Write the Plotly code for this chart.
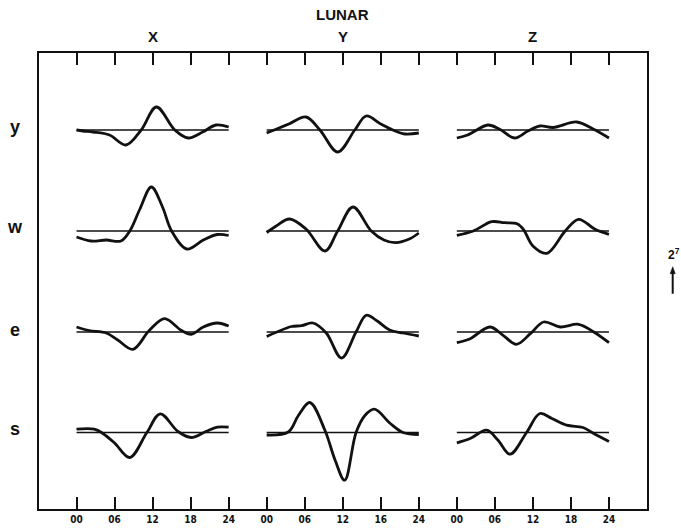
import plotly.graph_objects as go

# ---------------- data ----------------
ROWS = ["y", "w", "e", "s"]
COLS = ["X", "Y", "Z"]
TITLE = "LUNAR"
TICK_LABELS = ["00", "06", "12", "18", "24",
               "00", "06", "12", "16", "24",
               "00", "06", "12", "18", "24"]
SCALE_LABEL = "2<sup>7</sup>"
SCALE_VALUE = 27  # length of the 2^7 arrow in the curves' units

# hour of day (lunar) and deviation for each row/column panel
HOURS_Y_X = [0, 1, 2.6, 5.2, 7.8, 10.2, 12.6, 15.5, 17.6, 19.9, 22, 24]
VALUES_Y_X = [0, -1, -2, -5, -15, 0, 23, 0, -8, -2, 5, 3]
HOURS_Y_Y = [0, 1.2, 3.5, 6.2, 8.4, 11.2, 13.9, 15.7, 18, 19.9, 21.8, 24]
VALUES_Y_Y = [-3, 0, 6, 13, 0, -22, 0, 14, 6, 0, -4, -3]
HOURS_Y_Z = [0, 1.7, 4.9, 6.7, 9.1, 11.2, 13.1, 15.2, 18.9, 21.5, 24]
VALUES_Y_Z = [-8, -5, 5, 1, -8, -1, 4, 2.5, 8, 1, -8]

HOURS_W_X = [0, 2.3, 4.7, 7, 8.4, 10, 11.8, 13.5, 15, 17.4, 20, 22.2, 24]
VALUES_W_X = [-6, -10, -9, -10, 0, 22, 44, 25, 0, -18, -9, -3.5, -4.5]
HOURS_W_Y = [0, 1.5, 3.6, 6.2, 9.2, 11.2, 13.6, 16.5, 18.5, 20.4, 22.5, 24]
VALUES_W_Y = [-1.5, 5, 12, 2, -20, 0, 24, 0, -9, -11.7, -8, -2]
HOURS_W_Z = [0, 2.6, 5.5, 7.5, 9.5, 10.5, 12, 14.2, 17.1, 19.2, 21.8, 24]
VALUES_W_Z = [-4.3, 0, 9.3, 8.3, 7.3, 1.7, -15, -22.3, 0, 11.7, 1.7, -3.3]

HOURS_E_X = [0, 2, 4.7, 6.5, 8.9, 11.5, 13.9, 16.5, 18.1, 20, 22.2, 24]
VALUES_E_X = [5, 1.5, -1, -8, -17.3, 1.7, 13.3, 1.7, -2.3, 5, 9, 6]
HOURS_E_Y = [0, 1.6, 3.9, 5.5, 7.3, 9.4, 11.8, 14.1, 15.7, 17.5, 19.4, 21.5, 24]
VALUES_E_Y = [-4.5, 0, 5.5, 6.3, 9, -1, -26, 0, 16.7, 10.7, 2, -1, -4]
HOURS_E_Z = [0, 2.1, 5.2, 7.3, 9.4, 11.6, 13.7, 16.3, 19.2, 21.6, 24]
VALUES_E_Z = [-10.7, -6.7, 5, -3.3, -12.3, -1.7, 10, 5, 7.7, 0, -10.7]

HOURS_S_X = [0, 2.8, 4.1, 6, 8.4, 11.1, 13.2, 16, 18.1, 20.4, 22.2, 24]
VALUES_S_X = [3.3, 3.3, -0.7, -10.5, -25, 0, 18.7, 1, -5, 1, 5.3, 5.3]
HOURS_S_Y = [0, 3.4, 5, 6.8, 9.2, 10.8, 12.3, 14.1, 15.5, 17, 19.5, 21.5, 24]
VALUES_S_Y = [-2.5, 0.5, 17, 30, 2, -27.7, -47.7, 0, 17, 23.3, 9, 0, -2]
HOURS_S_Z = [0, 2.1, 4.7, 6.5, 8.4, 11, 13.1, 15, 17.3, 19.9, 21.6, 24]
VALUES_S_Z = [-10.3, -6, 2.3, -7.7, -21.7, 0, 19, 14, 7.3, 5, -1, -9]

CURVES = [
    (0, 0, HOURS_Y_X, VALUES_Y_X), (0, 1, HOURS_Y_Y, VALUES_Y_Y), (0, 2, HOURS_Y_Z, VALUES_Y_Z),
    (1, 0, HOURS_W_X, VALUES_W_X), (1, 1, HOURS_W_Y, VALUES_W_Y), (1, 2, HOURS_W_Z, VALUES_W_Z),
    (2, 0, HOURS_E_X, VALUES_E_X), (2, 1, HOURS_E_Y, VALUES_E_Y), (2, 2, HOURS_E_Z, VALUES_E_Z),
    (3, 0, HOURS_S_X, VALUES_S_X), (3, 1, HOURS_S_Y, VALUES_S_Y), (3, 2, HOURS_S_Z, VALUES_S_Z),
]

# ---------------- layout constants ----------------
W, H = 681, 530
BOX_L, BOX_R, BOX_T, BOX_B = 38.5, 647, 53, 508.5
ROW_OFFSET = [0, -101, -202, -302.5]     # vertical position of each row's zero line
Y_RANGE = [-378.5, 77]
PANEL_START = [1, 6, 11]                  # x position of hour 00 in each column
HOURS_PER_UNIT = 6
INK = "#111111"

def px(x):
    return x / W

def py(y):
    return 1 - y / H

fig = go.Figure()

for r, c, hrs, vals in CURVES:
    xs = [PANEL_START[c] + h / HOURS_PER_UNIT for h in hrs]
    base = ROW_OFFSET[r]
    # zero line
    fig.add_trace(go.Scatter(
        x=[xs[0], xs[-1]], y=[base, base], mode="lines",
        line=dict(color=INK, width=1.3), hoverinfo="skip", showlegend=False))
    fig.add_trace(go.Scatter(
        x=xs, y=[base + v for v in vals], mode="lines",
        line=dict(color=INK, width=2.8, shape="spline", smoothing=1.0),
        showlegend=False, name=f"{ROWS[r]} {COLS[c]}"))

tick_font = dict(family="DejaVu Sans Condensed, Liberation Sans Narrow, sans-serif",
                 size=10, color=INK, weight="bold")
label_font = dict(family="Liberation Sans, Arial, sans-serif", color=INK, weight="bold")

fig.update_layout(
    width=W, height=H,
    margin=dict(l=0, r=0, t=0, b=0),
    paper_bgcolor="white", plot_bgcolor="white",
    xaxis=dict(domain=[px(BOX_L), px(BOX_R)], range=[0, 16],
               tickvals=list(range(1, 16)), ticktext=TICK_LABELS,
               ticks="inside", ticklen=12, tickwidth=1.5, tickcolor=INK,
               showline=True, linewidth=2, linecolor=INK, mirror="ticks",
               showgrid=False, zeroline=False, tickfont=tick_font, fixedrange=True),
    yaxis=dict(domain=[py(BOX_B), py(BOX_T)], range=Y_RANGE,
               showline=True, linewidth=2, linecolor=INK, mirror=True,
               showticklabels=False, ticks="", showgrid=False, zeroline=False,
               fixedrange=True),
)

annotations = []
annotations.append(dict(text=TITLE, x=px(342.7), y=py(15), xref="paper", yref="paper",
                        xanchor="center", yanchor="middle",
                        showarrow=False, font=dict(size=15, **label_font)))
for c, name in enumerate(COLS):
    annotations.append(dict(text=name, x=PANEL_START[c] + 2, y=py(37), xref="x", yref="paper",
                            xanchor="center", yanchor="middle",
                            showarrow=False, font=dict(size=15, **label_font)))
ROW_LABEL_Y = [127, 227, 330, 429]
for r, name in enumerate(ROWS):
    annotations.append(dict(text=name, x=px(15), y=py(ROW_LABEL_Y[r]), xref="paper", yref="paper",
                            xanchor="center", yanchor="middle",
                            showarrow=False, font=dict(size=18, **label_font)))
# scale label
annotations.append(dict(text=SCALE_LABEL, x=px(674), y=py(254), xref="paper", yref="paper",
                        xanchor="center", yanchor="middle",
                        showarrow=False, font=dict(size=12, **label_font)))
fig.update_layout(annotations=annotations)

# scale arrow (length = SCALE_VALUE in curve units, drawn on the plot's y scale)
ARROW_X = px(672.7)
ARROW_TOP = ROW_OFFSET[1] - 35.7          # head tip level in data units (y≈266.7 px)
HEAD = 7
fig.add_shape(type="line", xref="paper", yref="y",
              x0=ARROW_X, x1=ARROW_X, y0=ARROW_TOP - SCALE_VALUE, y1=ARROW_TOP - HEAD + 1,
              line=dict(color=INK, width=2))
hw = 2.6 / W
fig.add_shape(type="path", xref="paper", yref="y",
              path=(f"M {ARROW_X - hw},{ARROW_TOP - HEAD} L {ARROW_X + hw},{ARROW_TOP - HEAD} "
                    f"L {ARROW_X},{ARROW_TOP} Z"),
              fillcolor=INK, line=dict(color=INK, width=0.5))

fig.write_html("out.html")
